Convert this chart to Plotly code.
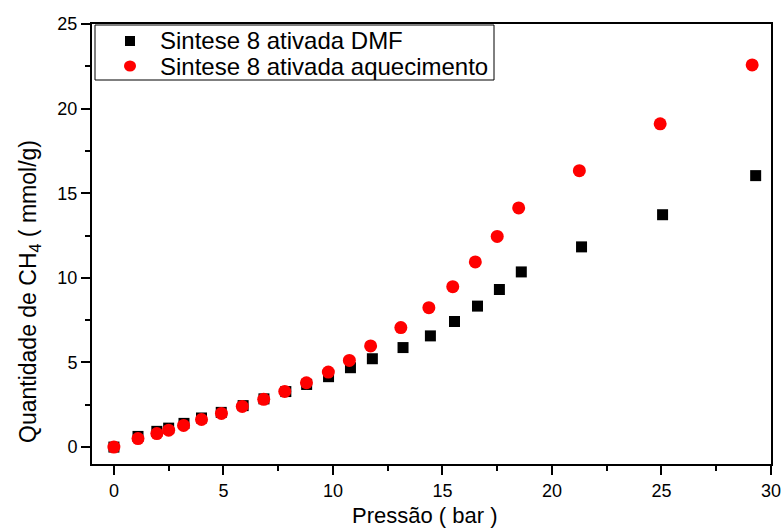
import plotly.graph_objects as go

# Pressure (bar) and CH4 uptake (mmol/g) for the two activation routes
pressao_dmf = [0, 1.1, 1.96, 2.5, 3.2, 4.0, 4.9, 5.9, 6.85, 7.85, 8.8, 9.8,
               10.8, 11.8, 13.2, 14.45, 15.55, 16.6, 17.6, 18.6, 21.35, 25.05, 29.3]
ch4_dmf = [0, 0.63, 0.93, 1.12, 1.4, 1.72, 2.05, 2.45, 2.85, 3.28, 3.7, 4.16,
           4.69, 5.22, 5.88, 6.57, 7.42, 8.33, 9.31, 10.35, 11.83, 13.73, 16.04]

pressao_aquec = [0, 1.1, 1.96, 2.5, 3.18, 4.0, 4.91, 5.86, 6.84, 7.8, 8.79, 9.79,
                 10.75, 11.72, 13.1, 14.38, 15.47, 16.5, 17.5, 18.48, 21.25, 24.94, 29.14]
ch4_aquec = [0, 0.5, 0.8, 1.0, 1.28, 1.63, 1.99, 2.4, 2.82, 3.29, 3.8, 4.43,
             5.12, 5.98, 7.06, 8.24, 9.48, 10.94, 12.45, 14.13, 16.33, 19.1, 22.58]

series_names = ["Sintese 8 ativada DMF", "Sintese 8 ativada aquecimento"]
series_colors = ["black", "#ff0000"]

FONT = "Liberation Sans, Arial, sans-serif"

# Plot-area geometry in pixels (used to place the boxed legend)
W, H = 783, 530
ML, MR, MT, MB = 92, 12, 24, 66
PW, PH = W - ML - MR, H - MT - MB


def px_x(px):
    return (px - ML) / PW


def px_y(py):
    return 1 - (py - MT) / PH


fig = go.Figure()
fig.add_trace(go.Scatter(
    x=pressao_dmf, y=ch4_dmf, mode="markers", name=series_names[0],
    marker=dict(symbol="square", size=11, color=series_colors[0]),
    showlegend=False,
))
fig.add_trace(go.Scatter(
    x=pressao_aquec, y=ch4_aquec, mode="markers", name=series_names[1],
    marker=dict(symbol="circle", size=13, color=series_colors[1]),
    showlegend=False,
))

axis_common = dict(
    automargin=False,
    showgrid=False, zeroline=False,
    showline=True, linecolor="black", linewidth=2, mirror=True,
    ticks="outside", ticklen=9, tickwidth=2, tickcolor="black",
    tickfont=dict(family=FONT, size=18, color="black"),
    minor=dict(ticks="outside", ticklen=5, tickwidth=2, tickcolor="black", dtick=2.5),
)

fig.update_xaxes(range=[-1, 30], tick0=0, dtick=5, **axis_common)
fig.update_yaxes(range=[-1, 25], tick0=0, dtick=5, **axis_common)

# Boxed legend: frame, symbols and labels
shapes = [
    dict(type="rect", xref="paper", yref="paper",
         x0=px_x(95), x1=px_x(494), y0=px_y(80), y1=px_y(25),
         line=dict(color="black", width=1), fillcolor="white", layer="above"),
    dict(type="rect", xref="paper", yref="paper",
         xsizemode="pixel", ysizemode="pixel",
         xanchor=px_x(130), yanchor=px_y(41), x0=-5, x1=5, y0=-5, y1=5,
         line=dict(width=0), fillcolor=series_colors[0], layer="above"),
    dict(type="circle", xref="paper", yref="paper",
         xsizemode="pixel", ysizemode="pixel",
         xanchor=px_x(130), yanchor=px_y(66), x0=-6, x1=6, y0=-5.5, y1=5.5,
         line=dict(width=0), fillcolor=series_colors[1], layer="above"),
]

annotations = [
    dict(text=series_names[0], xref="paper", yref="paper",
         x=px_x(158), y=px_y(41), xanchor="left", yanchor="middle",
         showarrow=False, font=dict(family=FONT, size=24, color="black")),
    dict(text=series_names[1], xref="paper", yref="paper",
         x=px_x(158), y=px_y(66), xanchor="left", yanchor="middle",
         showarrow=False, font=dict(family=FONT, size=24, color="black")),
    dict(text="Pressão ( bar )", xref="paper", yref="paper",
         x=px_x(425), y=px_y(530), xanchor="center", yanchor="bottom",
         showarrow=False, font=dict(family=FONT, size=22, color="black")),
    dict(text="Quantidade de CH<sub>4</sub> ( mmol/g)", xref="paper", yref="paper",
         x=px_x(29), y=px_y(292), xanchor="center", yanchor="middle",
         textangle=-90, showarrow=False,
         font=dict(family=FONT, size=23, color="black")),
]

fig.update_layout(
    width=W, height=H,
    margin=dict(l=ML, r=MR, t=MT, b=MB),
    plot_bgcolor="white", paper_bgcolor="white",
    showlegend=False,
    shapes=shapes,
    annotations=annotations,
)

fig.write_html("out.html")
